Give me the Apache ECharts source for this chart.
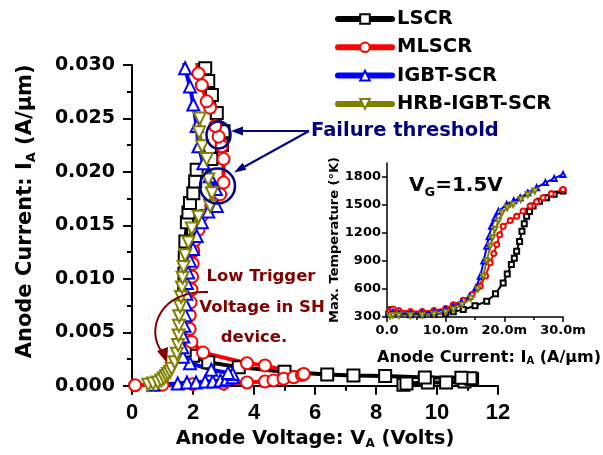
<!DOCTYPE html>
<html>
<head>
<meta charset="utf-8">
<script src="https://cdn.jsdelivr.net/npm/echarts@6.0.0/dist/echarts.min.js"></script>
<style>
  html, body { margin: 0; padding: 0; background: #fff; }
  #chart { width: 603px; height: 455px; }
</style>
</head>
<body>
<div id="chart"></div>
<script>
// main plot: anode voltage (V) vs anode current (A/um), path order
var lscrV = [8.9, 9.0, 9.7, 10.3, 10.9, 11.15, 11.1, 10.8, 9.6, 8.3, 7.26, 6.4, 5.0, 3.5, 2.5, 2.0, 1.73,
  1.7, 1.7, 1.7, 1.71, 1.72, 1.73, 1.75, 1.8, 1.85, 1.9, 2.01, 2.07, 2.12, 2.6, 2.95, 3.0, 2.78, 2.62, 2.5, 2.4, 2.35];
var lscrI = [0.0001, 0.0002, 0.0003, 0.0003, 0.0004, 0.0006, 0.0007, 0.00075, 0.00078, 0.0009, 0.00096, 0.00105, 0.0013, 0.00174, 0.0022, 0.0028, 0.0033,
  0.0045, 0.006, 0.0075, 0.009, 0.0105, 0.012, 0.0135, 0.0153, 0.0162, 0.0171, 0.018, 0.0191, 0.0202, 0.0212, 0.0225, 0.0238, 0.0255, 0.0272, 0.0285, 0.0297, 0.0305];

var mlscrV = [0.1, 1.0, 2.0, 3.0, 3.77, 4.36, 4.64, 4.97, 5.3, 5.57, 5.63, 4.36, 3.77, 2.33, 1.95, 1.89, 1.89, 1.92, 1.95, 1.97,
  1.99, 2.01, 2.06, 2.18, 2.29, 2.6, 2.89, 3.0, 3.0, 2.94, 2.84, 2.73, 2.56, 2.45, 2.29, 2.18, 2.12];
var mlscrI = [0.00005, 0.0001, 0.00015, 0.0002, 0.0003, 0.0004, 0.0005, 0.00065, 0.0008, 0.001, 0.0011, 0.0019, 0.0021, 0.0031, 0.0041, 0.0053, 0.0066, 0.0078, 0.009, 0.0102,
  0.0114, 0.0126, 0.0136, 0.0146, 0.0159, 0.0168, 0.0179, 0.019, 0.0212, 0.0224, 0.0233, 0.0243, 0.026, 0.0266, 0.0281, 0.0292, 0.0305];

var igbtV = [0.7, 1.5, 1.8, 2.1, 2.4, 2.65, 2.9, 3.1, 3.3, 3.3, 3.15, 2.6, 1.9, 1.67, 1.65, 1.68, 1.72, 1.75, 1.76, 1.78, 1.8,
  1.84, 1.9, 2.0, 2.12, 2.29, 2.5, 2.78, 2.75, 2.55, 2.34, 2.18, 2.12, 2.01, 1.9, 1.74, 1.7];
var igbtI = [0.0001, 0.0002, 0.0003, 0.0003, 0.0004, 0.0004, 0.0005, 0.0006, 0.0008, 0.0011, 0.0012, 0.0015, 0.0021, 0.0027, 0.0036, 0.0046, 0.0056, 0.0066, 0.0076, 0.0086, 0.0096,
  0.0106, 0.0117, 0.0128, 0.014, 0.0153, 0.0163, 0.0168, 0.0184, 0.0196, 0.0208, 0.0224, 0.0243, 0.0263, 0.028, 0.0297, 0.0305];

var hrbV = [0.53, 0.69, 0.85, 0.96, 1.05, 1.12, 1.18, 1.25, 1.3, 1.4, 1.47, 1.51, 1.53, 1.54, 1.55, 1.58, 1.61, 1.64, 1.66, 1.69,
  1.74, 1.85, 1.96, 2.18, 2.56, 2.62, 2.5, 2.45, 2.3, 2.2, 2.22];
var hrbI = [0.0001, 0.0002, 0.0003, 0.0005, 0.0007, 0.0009, 0.0011, 0.0013, 0.0016, 0.0022, 0.003, 0.0038, 0.0047, 0.0056, 0.0065, 0.0074, 0.0083, 0.0092, 0.0101, 0.0111,
  0.0122, 0.0134, 0.0147, 0.0158, 0.0168, 0.018, 0.0193, 0.0212, 0.0224, 0.0237, 0.025, 0.0262];

// inset: anode current (A/um) vs max temperature (K)
var lscrTI = [0.0003, 0.0008, 0.0015, 0.004, 0.006, 0.008, 0.010, 0.0113, 0.013, 0.015, 0.017, 0.0185, 0.0198, 0.0205, 0.0212,
  0.0217, 0.0221, 0.0226, 0.023, 0.0234, 0.0238, 0.0243, 0.0249, 0.026, 0.0272, 0.0285, 0.030];
var lscrT = [330, 378, 340, 325, 325, 330, 340, 355, 380, 420, 468, 550, 665, 760, 862, 930, 1005, 1110, 1220, 1300, 1380, 1430, 1488, 1540, 1578, 1615, 1649];

var mlscrTI = [0.0005, 0.001, 0.002, 0.004, 0.006, 0.008, 0.010, 0.0113, 0.013, 0.0145, 0.0159, 0.0168, 0.0176, 0.0182, 0.0187,
  0.0192, 0.0198, 0.021, 0.0221, 0.0232, 0.0244, 0.0255, 0.0266, 0.028, 0.030];
var mlscrT = [360, 385, 370, 360, 360, 370, 390, 432, 480, 540, 629, 740, 880, 980, 1077, 1180, 1273, 1335, 1380, 1435, 1488, 1535, 1578, 1620, 1667];

var igbtTI = [0.0005, 0.001, 0.002, 0.004, 0.006, 0.008, 0.010, 0.0113, 0.0127, 0.0141, 0.0152, 0.0159, 0.0165, 0.017, 0.0174,
  0.0178, 0.0184, 0.019, 0.0204, 0.0216, 0.0227, 0.024, 0.0255, 0.027, 0.0285, 0.030];
var igbtT = [330, 350, 340, 340, 343, 355, 380, 414, 460, 521, 620, 736, 900, 1058, 1160, 1273, 1360, 1434, 1506, 1545, 1578, 1630, 1686, 1740, 1785, 1828];

var hrbTI = [0.0005, 0.001, 0.002, 0.004, 0.006, 0.008, 0.010, 0.0113, 0.0128, 0.0143, 0.0155, 0.0164, 0.017, 0.0176, 0.018,
  0.0184, 0.019, 0.0196, 0.0205, 0.0215, 0.0228, 0.024, 0.0252];
var hrbT = [310, 320, 315, 315, 320, 330, 350, 380, 430, 500, 600, 736, 900, 1058, 1150, 1238, 1330, 1417, 1470, 1506, 1560, 1610, 1649];

var names = ['LSCR', 'MLSCR', 'IGBT-SCR', 'HRB-IGBT-SCR'];
var colors = ['#000000', '#ff0000', '#0000ff', '#808000'];
var symbols = ['emptyRect', 'emptyCircle', 'emptyTriangle', 'emptyTriangle'];
var rotates = [0, 0, 0, 180];
var tempTicks = [300, 600, 900, 1200, 1500, 1800];

var FONT = 'DejaVu Sans';
var NAVY = '#000080';
var DARKRED = '#800000';

function pairs(xs, ys) {
  return xs.map(function (x, i) { return [x, ys[i]]; });
}

var mainData = [pairs(lscrV, lscrI), pairs(mlscrV, mlscrI), pairs(igbtV, igbtI), pairs(hrbV, hrbI)];
var insetData = [pairs(lscrTI, lscrT), pairs(mlscrTI, mlscrT), pairs(igbtTI, igbtT), pairs(hrbTI, hrbT)];

var series = [];
names.forEach(function (n, k) {
  series.push({
    name: n, type: 'line', xAxisIndex: 0, yAxisIndex: 0,
    data: mainData[k],
    symbol: symbols[k], symbolSize: 12, symbolRotate: rotates[k],
    lineStyle: { width: 4, color: colors[k] },
    itemStyle: { color: colors[k], borderWidth: 1 },
    clip: true
  });
});
names.forEach(function (n, k) {
  series.push({
    name: n, type: 'line', xAxisIndex: 1, yAxisIndex: 1,
    data: insetData[k],
    symbol: symbols[k], symbolSize: 5, symbolRotate: rotates[k],
    lineStyle: { width: 2, color: colors[k] },
    itemStyle: { color: colors[k], borderWidth: 1 },
    clip: true
  });
});

var chart = echarts.init(document.getElementById('chart'));

function subRich(size, sub) {
  return {
    sub: { fontFamily: FONT, fontWeight: 'bold', fontSize: sub, color: '#000', verticalAlign: 'bottom', padding: [size * 0.55, 0, 0, 0] }
  };
}

chart.setOption({
  animation: false,
  backgroundColor: '#fff',
  grid: [
    { left: 132, top: 65, width: 366, height: 322, containLabel: false },
    { left: 387, top: 163, width: 176, height: 154, containLabel: false }
  ],
  legend: {
    data: names,
    orient: 'vertical',
    left: 330, top: 4,
    itemWidth: 54, itemHeight: 12, itemGap: 8.3,
    lineStyle: { width: 6, cap: 'round' },
    textStyle: { fontFamily: FONT, fontWeight: 'bold', fontSize: 19.5, color: '#000' },
    selectedMode: false
  },
  xAxis: [{
    type: 'value', gridIndex: 0, min: 0, max: 12, interval: 2,
    name: 'Anode Voltage: V{sub|A} (Volts)', nameLocation: 'middle', nameGap: 40,
    nameTextStyle: { fontFamily: FONT, fontWeight: 'bold', fontSize: 19.5, color: '#000', rich: subRich(19.5, 12) },
    axisLine: { lineStyle: { color: '#000', width: 2 } },
    axisTick: { length: 9, lineStyle: { width: 2, color: '#000' } },
    minorTick: { show: true, splitNumber: 2, length: 5, lineStyle: { width: 2, color: '#000' } },
    splitLine: { show: false },
    axisLabel: { margin: 16, fontFamily: 'Liberation Sans', fontWeight: 'bold', fontSize: 22, color: '#000' }
  }, {
    type: 'value', gridIndex: 1, min: 0, max: 0.03, interval: 0.01,
    name: 'Anode Current: I{sub|A} (A/\u03bcm)', nameLocation: 'middle', nameGap: 31,
    nameTextStyle: { fontFamily: FONT, fontWeight: 'bold', fontSize: 16, color: '#000', padding: [0, 0, 0, 28], rich: subRich(16, 10) },
    axisLine: { lineStyle: { color: '#000', width: 1.5 } },
    axisTick: { length: 5, lineStyle: { width: 1.5, color: '#000' } },
    minorTick: { show: true, splitNumber: 2, length: 3, lineStyle: { width: 1.5, color: '#000' } },
    splitLine: { show: false },
    axisLabel: {
      margin: 7, fontFamily: FONT, fontWeight: 'bold', fontSize: 13, color: '#000',
      formatter: function (v) { return v === 0 ? '0.0' : (v * 1000).toFixed(1) + 'm'; }
    }
  }],
  yAxis: [{
    type: 'value', gridIndex: 0, min: 0, max: 0.03, interval: 0.005,
    name: 'Anode Current: I{sub|A} (A/\u03bcm)', nameLocation: 'middle', nameGap: 94,
    nameTextStyle: { fontFamily: FONT, fontWeight: 'bold', fontSize: 21, color: '#000', padding: [0, 0, 0, 28], rich: subRich(21, 13) },
    axisLine: { show: true, lineStyle: { color: '#000', width: 2 } },
    axisTick: { show: true, length: 9, lineStyle: { width: 2, color: '#000' } },
    minorTick: { show: true, splitNumber: 2, length: 5, lineStyle: { width: 2, color: '#000' } },
    splitLine: { show: false },
    axisLabel: {
      margin: 17, fontFamily: FONT, fontWeight: 'bold', fontSize: 19, color: '#000',
      formatter: function (v) { return v.toFixed(3); }
    }
  }, {
    type: 'value', gridIndex: 1, min: 300, max: 1950,
    name: 'Max. Temperature (\u00b0K)', nameLocation: 'middle', nameGap: 44,
    nameTextStyle: { fontFamily: FONT, fontWeight: 'bold', fontSize: 13, color: '#000' },
    axisLine: { show: true, lineStyle: { color: '#000', width: 1.5 } },
    axisTick: { show: true, length: 5, customValues: tempTicks, lineStyle: { width: 1.5, color: '#000' } },
    splitLine: { show: false },
    axisLabel: {
      margin: 6, customValues: tempTicks, fontFamily: FONT, fontWeight: 'bold', fontSize: 13, color: '#000',
      formatter: function (v) { return String(v); }
    }
  }],
  series: series,
  graphic: { elements: [
    { type: 'ellipse', z: 100, shape: { cx: 218.5, cy: 135, rx: 12, ry: 13.5 }, style: { fill: null, stroke: NAVY, lineWidth: 2.5 } },
    { type: 'ellipse', z: 100, shape: { cx: 217.5, cy: 186, rx: 17.5, ry: 17.5 }, style: { fill: null, stroke: NAVY, lineWidth: 2.5 } },
    { type: 'line', z: 100, shape: { x1: 309, y1: 131, x2: 240, y2: 131 }, style: { stroke: NAVY, lineWidth: 2 } },
    { type: 'polygon', z: 100, shape: { points: [[231, 131], [243, 126.5], [243, 135.5]] }, style: { fill: NAVY } },
    { type: 'line', z: 100, shape: { x1: 309, y1: 131, x2: 243, y2: 167.5 }, style: { stroke: NAVY, lineWidth: 2 } },
    { type: 'polygon', z: 100, shape: { points: [[234, 172.5], [246.4, 169.7], [242.6, 162.7]] }, style: { fill: NAVY } },
    { type: 'text', z: 100, x: 311, y: 131, style: { text: 'Failure threshold', font: 'bold 19.5px "DejaVu Sans"', fill: NAVY, align: 'left', verticalAlign: 'middle' } },
    { type: 'text', z: 100, x: 261, y: 277, style: { text: 'Low Trigger', font: 'bold 16.5px "DejaVu Sans"', fill: DARKRED, align: 'center', verticalAlign: 'middle' } },
    { type: 'text', z: 100, x: 262, y: 307.5, style: { text: 'Voltage in SH', font: 'bold 16.5px "DejaVu Sans"', fill: DARKRED, align: 'center', verticalAlign: 'middle' } },
    { type: 'text', z: 100, x: 254, y: 338, style: { text: 'device.', font: 'bold 16.5px "DejaVu Sans"', fill: DARKRED, align: 'center', verticalAlign: 'middle' } },
    { type: 'bezierCurve', z: 100, shape: { x1: 208, y1: 292, cpx1: 160, cpy1: 290, cpx2: 145, cpy2: 330, x2: 162, y2: 352 }, style: { fill: null, stroke: DARKRED, lineWidth: 2 } },
    { type: 'polygon', z: 100, shape: { points: [[167, 363], [157, 351], [168, 347]] }, style: { fill: DARKRED } },
    { type: 'text', z: 100, x: 409, y: 186, style: {
      text: '{v|V}{g|G}{v|=1.5V}', align: 'left', verticalAlign: 'middle',
      rich: {
        v: { fontFamily: FONT, fontWeight: 'bold', fontSize: 20, fill: '#000' },
        g: { fontFamily: FONT, fontWeight: 'bold', fontSize: 13, fill: '#000', verticalAlign: 'bottom', padding: [14, 0, 0, 0] }
      }
    } }
  ] }
});
</script>
</body>
</html>
